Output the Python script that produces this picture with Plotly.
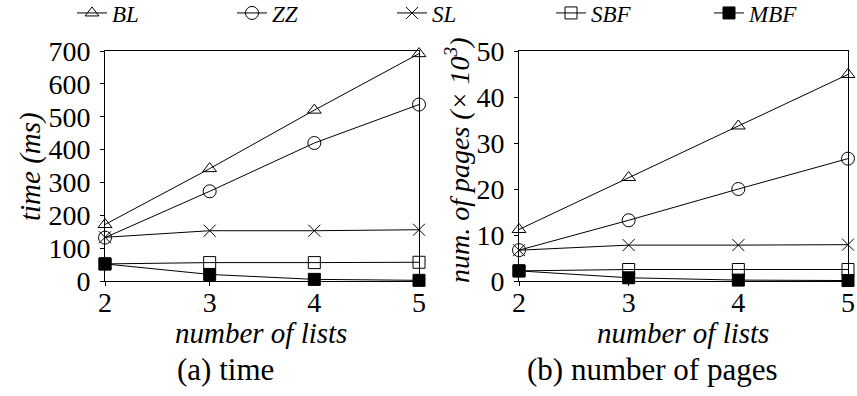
import plotly.graph_objects as go

# number of lists on the x axis
lists = [2, 3, 4, 5]

# (a) query time in ms
time_bl = [172, 342, 520, 692]
time_zz = [132, 273, 420, 537]
time_sl = [133, 153, 153, 156]
time_sbf = [52, 56, 56, 57]
time_mbf = [52, 20, 5, 2]

# (b) number of pages accessed (x 10^3)
pages_bl = [11.2, 22.5, 33.7, 44.9]
pages_zz = [6.7, 13.2, 20.0, 26.6]
pages_sl = [6.7, 7.8, 7.8, 7.9]
pages_sbf = [2.2, 2.5, 2.5, 2.5]
pages_mbf = [2.2, 0.7, 0.2, 0.1]

methods = ["BL", "ZZ", "SL", "SBF", "MBF"]
symbols = ["triangle-up-open", "circle-open", "x-thin-open", "square-open", "square"]
sizes = [12, 13, 12, 12, 12]
legend_ids = ["legend", "legend2", "legend3", "legend4", "legend5"]
legend_x = [78, 238, 398, 557, 715]   # left edge of each legend entry, px

FONT = "Liberation Serif"
W, H = 857, 396

fig = go.Figure()

time_series = [time_bl, time_zz, time_sl, time_sbf, time_mbf]
page_series = [pages_bl, pages_zz, pages_sl, pages_sbf, pages_mbf]


def style(sym, sz):
    return dict(
        line=dict(color="black", width=1),
        marker=dict(symbol=sym, size=sz, color="black",
                    line=dict(color="black", width=1)),
    )


for name, sym, sz, ys, lg in zip(methods, symbols, sizes, time_series, legend_ids):
    fig.add_trace(go.Scatter(
        x=lists, y=ys, name=name, mode="lines+markers", legend=lg,
        cliponaxis=False, xaxis="x", yaxis="y", **style(sym, sz),
    ))

for name, sym, sz, ys in zip(methods, symbols, sizes, page_series):
    fig.add_trace(go.Scatter(
        x=lists, y=ys, name=name, mode="lines+markers", showlegend=False,
        cliponaxis=False, xaxis="x2", yaxis="y2", **style(sym, sz),
    ))

ydom = [(H - 281) / H, (H - 51) / H]

axis_common = dict(
    showline=True, linecolor="black", linewidth=1, mirror=True,
    ticks="outside", ticklen=4, tickcolor="black", tickwidth=1,
    showgrid=False, zeroline=False, automargin=False,
    tickfont=dict(family=FONT, size=28, color="black"),
)

layout_legends = {}
for lg, lx in zip(legend_ids, legend_x):
    layout_legends[lg] = dict(
        x=(lx - 6) / W, y=(H - 13) / H, xanchor="left", yanchor="middle",
        itemwidth=30, borderwidth=0, bgcolor="rgba(0,0,0,0)",
        font=dict(family=FONT, size=23, color="black", style="italic"),
    )

fig.update_layout(
    width=W, height=H,
    margin=dict(l=0, r=0, t=0, b=0, autoexpand=False),
    paper_bgcolor="white", plot_bgcolor="white",
    font=dict(family=FONT, color="black"),
    xaxis=dict(domain=[105 / W, 419 / W], range=[2, 5], tickvals=lists,
               ticklabelstandoff=-8, anchor="y", **axis_common),
    yaxis=dict(domain=ydom, range=[0, 700], dtick=100,
               ticklabelstandoff=4, anchor="x", **axis_common),
    xaxis2=dict(domain=[519 / W, 848 / W], range=[2, 5], tickvals=lists,
                ticklabelstandoff=-8, anchor="y2", **axis_common),
    yaxis2=dict(domain=ydom, range=[0, 50], dtick=10,
                ticklabelstandoff=4, anchor="x2", **axis_common),
    showlegend=True,
    **layout_legends,
)

annotations = [
    dict(text="<i>time (ms)</i>", x=30 / W, y=(H - 166) / H, textangle=-90,
         font=dict(size=29)),
    dict(text="<i>num. of pages</i> <i>(× 10<sup>3</sup>)</i>", x=457 / W,
         y=(H - 160) / H, textangle=-90, font=dict(size=28)),
    dict(text="<i>number of lists</i>", x=261 / W, y=(H - 333) / H,
         font=dict(size=29)),
    dict(text="<i>number of lists</i>", x=683 / W, y=(H - 333) / H,
         font=dict(size=29)),
    dict(text="(a) time", x=225 / W, y=(H - 369) / H, font=dict(size=31)),
    dict(text="(b) number of pages", x=652 / W, y=(H - 369) / H,
         font=dict(size=31)),
]
for a in annotations:
    a["font"].update(family=FONT, color="black")
    fig.add_annotation(xref="paper", yref="paper", showarrow=False,
                       xanchor="center", yanchor="middle", **a)

fig.write_html("out.html")
